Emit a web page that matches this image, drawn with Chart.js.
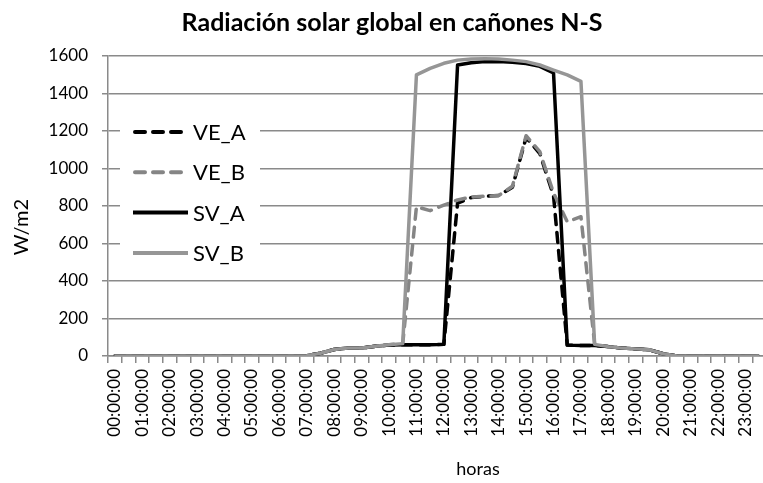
<!DOCTYPE html>
<html>
<head>
<meta charset="utf-8">
<title>Radiación solar global en cañones N-S</title>
<script src="https://cdn.jsdelivr.net/npm/chart.js@4.4.1/dist/chart.umd.min.js"></script>
<style>
  html, body { margin: 0; padding: 0; overflow: hidden; background: #fff; }
  canvas { display: block; }
</style>
</head>
<body>
<canvas id="chart-radiacion" width="776" height="483"></canvas>
<script>
// half-hourly categories, only the full hours get a label on the axis
var horas = [
    '00:00:00', '00:30:00', '01:00:00', '01:30:00', '02:00:00', '02:30:00',
    '03:00:00', '03:30:00', '04:00:00', '04:30:00', '05:00:00', '05:30:00',
    '06:00:00', '06:30:00', '07:00:00', '07:30:00', '08:00:00', '08:30:00',
    '09:00:00', '09:30:00', '10:00:00', '10:30:00', '11:00:00', '11:30:00',
    '12:00:00', '12:30:00', '13:00:00', '13:30:00', '14:00:00', '14:30:00',
    '15:00:00', '15:30:00', '16:00:00', '16:30:00', '17:00:00', '17:30:00',
    '18:00:00', '18:30:00', '19:00:00', '19:30:00', '20:00:00', '20:30:00',
    '21:00:00', '21:30:00', '22:00:00', '22:30:00', '23:00:00', '23:30:00'
];

var veA = [0, 0, 0, 0, 0, 0, 0, 0, 0, 0, 0, 0, 0, 0,
    2, 15, 35, 43, 43, 52, 58, 60, 60, 60, 62, 815, 845, 852, 856, 900,
    1165, 1080, 855, 58, 56, 56, 50, 42, 38, 33, 12,
    0, 0, 0, 0, 0, 0, 0];

var veB = [0, 0, 0, 0, 0, 0, 0, 0, 0, 0, 0, 0, 0, 0,
    2, 15, 35, 43, 43, 52, 60, 66, 796, 775, 805, 832, 848, 852, 856, 905,
    1175, 1090, 870, 716, 743, 62, 50, 42, 38, 33, 12,
    0, 0, 0, 0, 0, 0, 0];

var svA = [0, 0, 0, 0, 0, 0, 0, 0, 0, 0, 0, 0, 0, 0,
    2, 15, 35, 43, 43, 52, 58, 60, 60, 60, 62, 1552, 1564, 1570, 1570, 1566,
    1560, 1545, 1510, 58, 56, 56, 50, 42, 38, 33, 12,
    0, 0, 0, 0, 0, 0, 0];

var svB = [0, 0, 0, 0, 0, 0, 0, 0, 0, 0, 0, 0, 0, 0,
    2, 15, 35, 43, 43, 52, 60, 66, 1499, 1534, 1561, 1578, 1584, 1586, 1584, 1578,
    1570, 1552, 1525, 1499, 1465, 62, 50, 42, 38, 33, 12,
    0, 0, 0, 0, 0, 0, 0];

var gridGray = '#8a8a8a';

// legend sits inside the plot on a white box, like the excel original
var legendInside = {
    id: 'legendInside',
    beforeDatasetsDraw: function (chart) {
        var ctx = chart.ctx;
        ctx.save();
        ctx.fillStyle = '#ffffff';
        ctx.fillRect(chart.chartArea.left + 12, 106, 140, 166);
        ctx.restore();
    },
    afterDatasetsDraw: function (chart) {
        var ctx = chart.ctx;
        ctx.save();
        chart.data.datasets.forEach(function (ds, i) {
            var y = 132 + i * 40.3;
            var dashed = ds.borderDash.length > 0;
            ctx.beginPath();
            ctx.strokeStyle = ds.borderColor;
            ctx.lineWidth = 4;
            ctx.lineCap = dashed ? 'round' : 'butt';
            ctx.setLineDash(ds.borderDash);
            ctx.moveTo(dashed ? 135 : 133, y);
            ctx.lineTo(dashed ? 181 : 188, y);
            ctx.stroke();
            ctx.setLineDash([]);
            ctx.fillStyle = '#000';
            ctx.font = '22px Lato';
            ctx.textAlign = 'left';
            ctx.textBaseline = 'alphabetic';
            ctx.fillText(ds.label, 193, y + 8);
        });
        ctx.restore();
    },
    afterDraw: function (chart) {
        var ctx = chart.ctx;
        ctx.save();
        ctx.fillStyle = '#000';
        ctx.font = '18px Lato';
        ctx.textAlign = 'center';
        ctx.textBaseline = 'middle';
        ctx.fillText('horas', 478, 469);
        ctx.font = '20px Lato';
        ctx.translate(22, 227);
        ctx.rotate(-Math.PI / 2);
        ctx.fillText('W/m2', 0, 0);
        ctx.restore();
    }
};

var ctx = document.getElementById('chart-radiacion').getContext('2d');
var chartRadiacion = new Chart(ctx, {
    type: 'line',
    data: {
        labels: horas,
        datasets: [{
            label: 'VE_A',
            data: veA,
            borderColor: '#000000',
            borderDash: [10, 8],
            borderCapStyle: 'round',
            order: 3
        }, {
            label: 'VE_B',
            data: veB,
            borderColor: '#858585',
            borderDash: [10, 8],
            borderCapStyle: 'round',
            order: 2
        }, {
            label: 'SV_A',
            data: svA,
            borderColor: '#000000',
            borderDash: [],
            order: 1
        }, {
            label: 'SV_B',
            data: svB,
            borderColor: '#969696',
            borderDash: [],
            order: 0
        }]
    },
    options: {
        responsive: false,
        animation: false,
        devicePixelRatio: 1,
        layout: { padding: { left: 18, right: 10, top: 0, bottom: 0 } },
        elements: {
            point: { radius: 0 },
            line: { borderWidth: 3.5, tension: 0, borderJoinStyle: 'round', fill: false }
        },
        plugins: {
            legend: { display: false },
            tooltip: { enabled: false },
            title: {
                display: true,
                text: 'Radiación solar global en cañones N-S',
                color: '#000',
                font: { family: 'Lato', size: 25, weight: 'bold' },
                padding: { top: 8, bottom: 18 }
            }
        },
        scales: {
            x: {
                type: 'category',
                offset: true,
                grid: {
                    offset: true,
                    drawOnChartArea: false,
                    drawTicks: true,
                    tickLength: 7,
                    color: gridGray,
                    lineWidth: 1.5
                },
                border: { color: gridGray, width: 1.5 },
                ticks: {
                    autoSkip: false,
                    maxRotation: 90,
                    minRotation: 90,
                    padding: 6,
                    color: '#000',
                    font: { family: 'Lato', size: 17 },
                    callback: function (value, index) {
                        return index % 2 === 0 ? horas[index] : '';
                    }
                },
                afterFit: function (scale) {
                    scale.height = 127;
                    scale.paddingLeft = 0;
                    scale.paddingRight = 0;
                }
            },
            y: {
                min: 0,
                max: 1600,
                grid: {
                    color: gridGray,
                    lineWidth: 1.5,
                    drawTicks: true,
                    tickLength: 6
                },
                border: { color: gridGray, width: 1.5 },
                ticks: {
                    stepSize: 200,
                    padding: 14,
                    color: '#000',
                    font: { family: 'Lato', size: 17 },
                    callback: function (value) {
                        return String(value);
                    }
                },
                afterFit: function (scale) {
                    scale.width = 90;
                    scale.paddingTop = 0;
                    scale.paddingBottom = 0;
                }
            }
        }
    },
    plugins: [legendInside]
});
</script>
</body>
</html>
